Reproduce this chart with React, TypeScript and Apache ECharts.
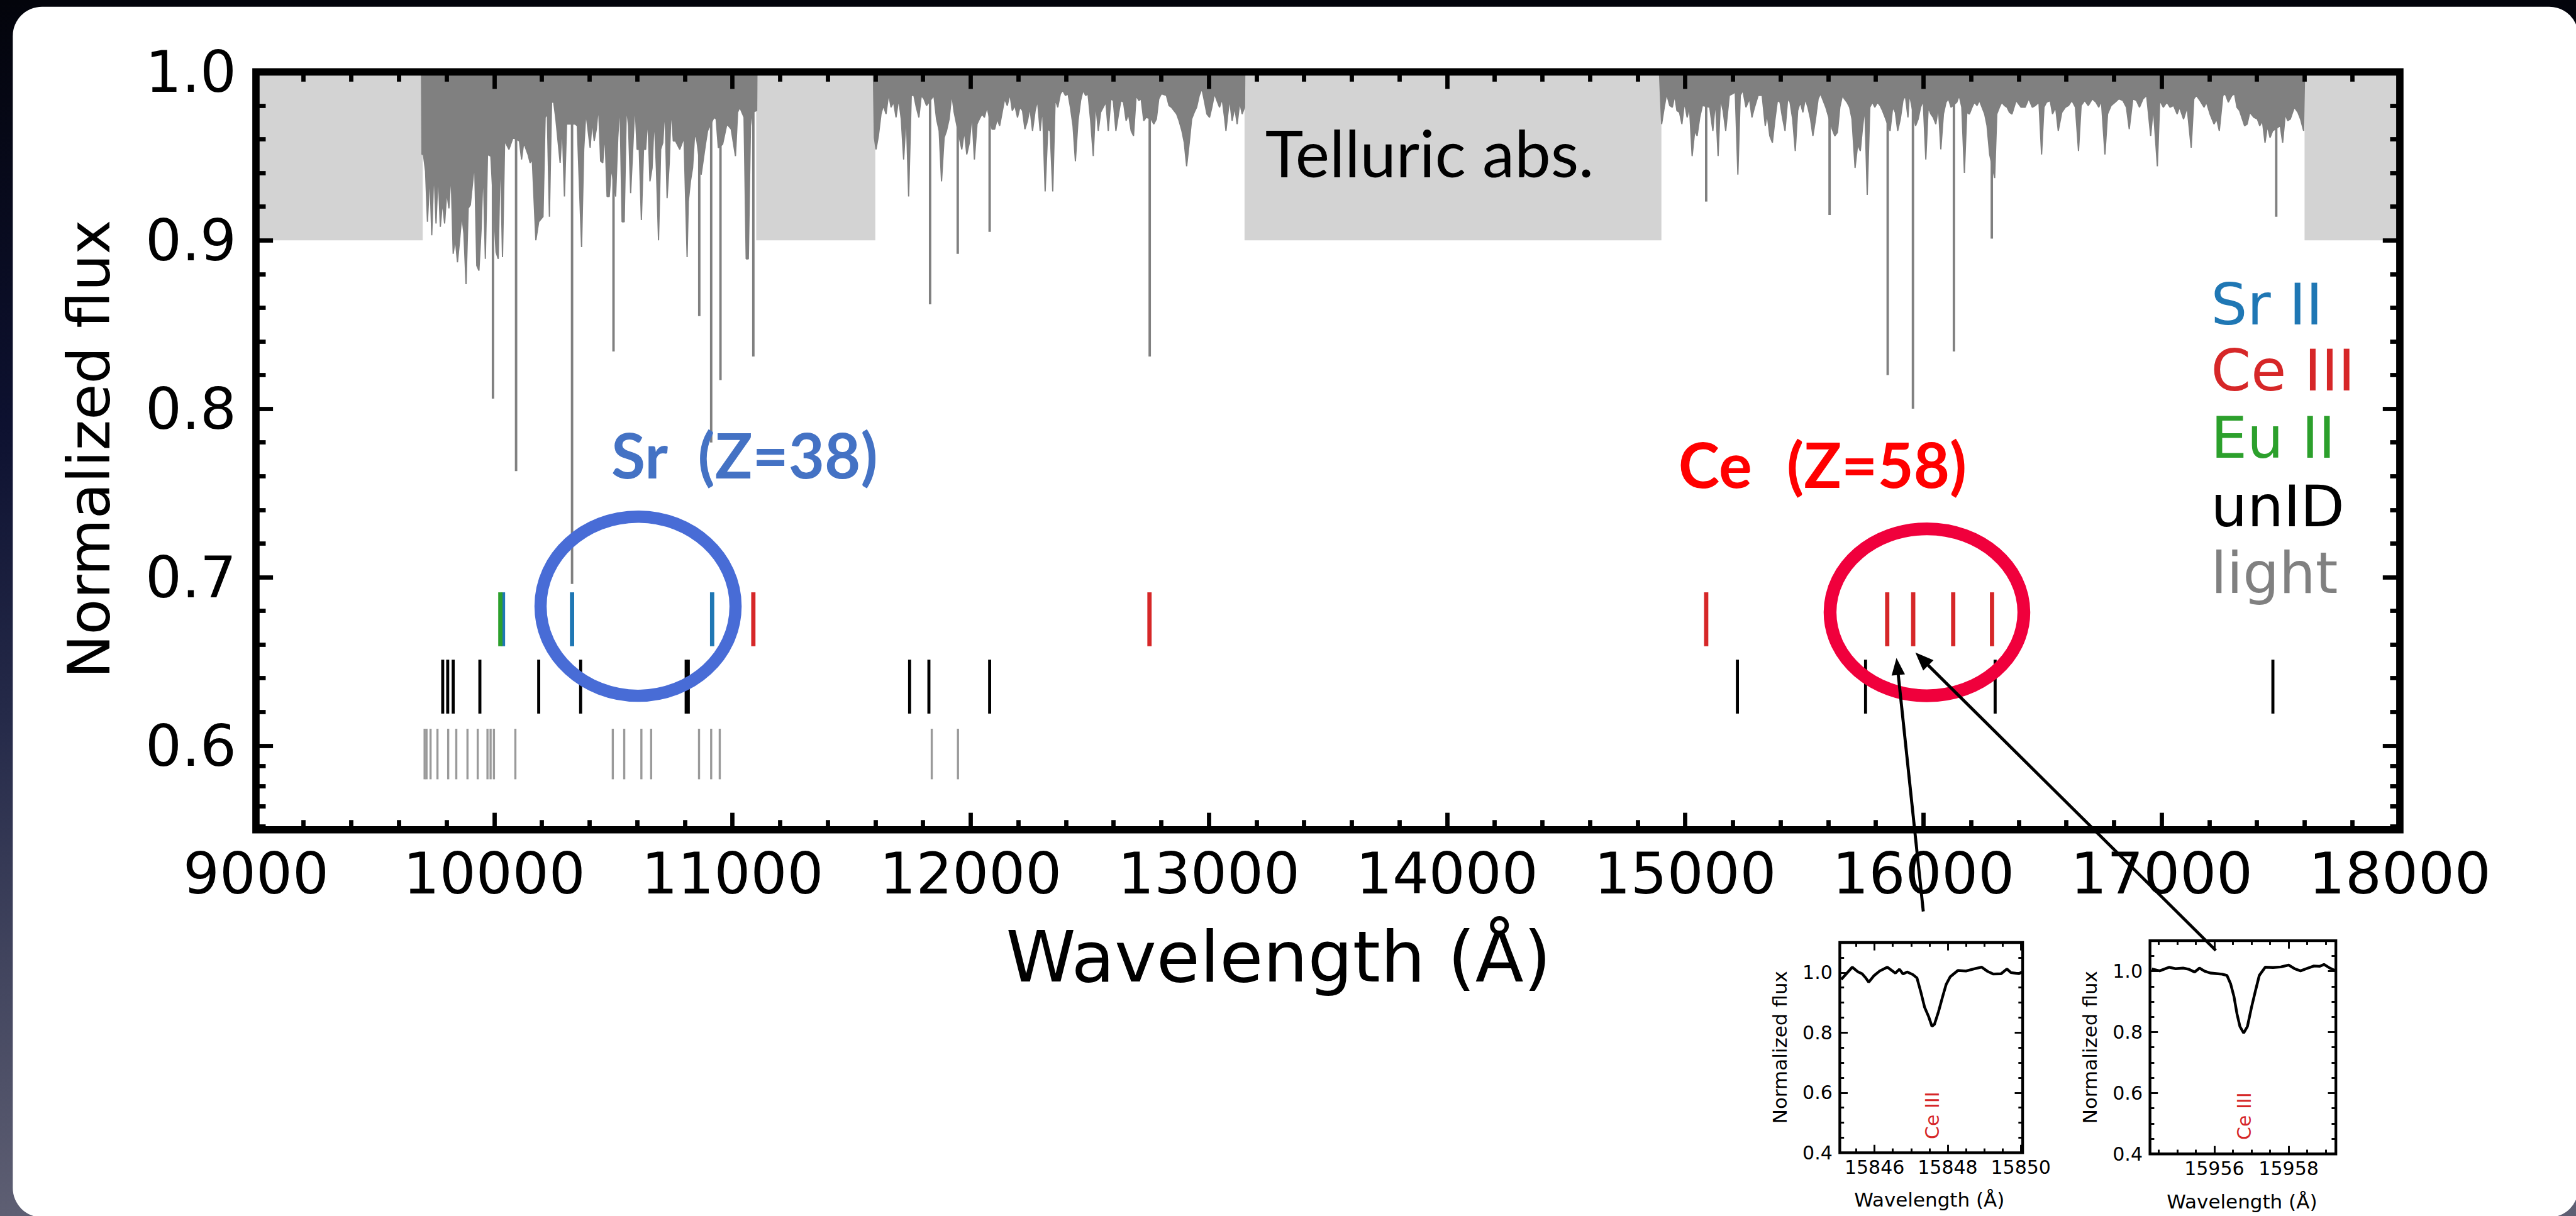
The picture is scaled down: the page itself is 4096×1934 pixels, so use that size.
import React, { useEffect, useRef } from "react";
import * as echarts from "echarts";

// ---------------- scale of the output relative to the reference ----------------
const S = 0.969;
const p = (v: number) => v * S;

// ---------------- main panel axes ----------------
const xMin = 9000;
const xMax = 18000;
const yMin = 0.55;
const yMax = 1.0;
const xMajorTicks = [9000, 10000, 11000, 12000, 13000, 14000, 15000, 16000, 17000, 18000];
const yMajorTicks = [0.6, 0.7, 0.8, 0.9, 1.0];

// ---------------- telluric absorption panel ----------------
const telluricBand = [0.9, 1.0];
const lightBands = [
  [9000, 9700],
  [11100, 11600],
  [13150, 14900],
  [17600, 18000],
];

const telluricA = [
  [9695, 0.999], [9697, 0.951], [9703, 0.951], [9712, 0.941], [9720, 0.911], [9730, 0.94], [9738, 0.903], [9747, 0.943],
  [9756, 0.91], [9765, 0.941], [9774, 0.908], [9783, 0.923], [9792, 0.91], [9801, 0.929], [9810, 0.919], [9819, 0.941],
  [9828, 0.892], [9837, 0.901], [9846, 0.887], [9855, 0.9], [9864, 0.915], [9873, 0.904], [9882, 0.874], [9891, 0.919],
  [9900, 0.921], [9918, 0.946], [9927, 0.885], [9936, 0.882], [9945, 0.906], [9954, 0.944], [9963, 0.889], [9972, 0.951],
  [9986, 0.95], [10008, 0.893], [10017, 0.889], [10026, 0.955], [10035, 0.89], [10044, 0.959], [10062, 0.954], [10079, 0.961],
  [10106, 0.959], [10115, 0.948], [10124, 0.958], [10142, 0.951], [10151, 0.946], [10160, 0.948], [10175, 0.9], [10187, 0.911],
  [10205, 0.914], [10214, 0.973], [10223, 0.975], [10232, 0.914], [10241, 0.982], [10250, 0.982], [10259, 0.972], [10277, 0.946],
  [10286, 0.969], [10295, 0.926], [10304, 0.969], [10313, 0.969], [10340, 0.969], [10349, 0.968], [10367, 0.896], [10376, 0.954],
  [10385, 0.976], [10403, 0.955], [10411, 0.971], [10420, 0.959], [10429, 0.966], [10438, 0.98], [10447, 0.947], [10456, 0.946],
  [10465, 0.964], [10474, 0.926], [10483, 0.926], [10492, 0.943], [10510, 0.926], [10519, 0.961], [10528, 0.982], [10537, 0.911],
  [10546, 0.911], [10555, 0.98], [10564, 0.968], [10573, 0.928], [10582, 0.955], [10591, 0.982], [10600, 0.954], [10609, 0.954],
  [10618, 0.912], [10627, 0.954], [10636, 0.954], [10645, 0.973], [10654, 0.935], [10663, 0.943], [10672, 0.973], [10681, 0.943],
  [10690, 0.9], [10699, 0.954], [10708, 0.958], [10717, 0.979], [10726, 0.925], [10735, 0.946], [10743, 0.979], [10752, 0.959],
  [10761, 0.959], [10779, 0.954], [10797, 0.961], [10810, 0.89], [10815, 0.923], [10824, 0.935], [10833, 0.943], [10842, 0.964],
  [10851, 0.959], [10869, 0.939], [10887, 0.957], [10896, 0.965], [10923, 0.973], [10932, 0.972], [10941, 0.955], [10959, 0.957],
  [10977, 0.969], [10995, 0.966], [11013, 0.95], [11022, 0.976], [11031, 0.979], [11049, 0.973], [11058, 0.889], [11067, 0.889],
  [11076, 0.968], [11084, 0.976], [11102, 0.977], [11103, 0.999],
];

const telluricB = [
  [11592, 0.999], [11596, 0.961], [11603, 0.954], [11613, 0.962], [11624, 0.975], [11634, 0.98], [11645, 0.975], [11656, 0.987],
  [11666, 0.979], [11677, 0.982], [11687, 0.973], [11698, 0.984], [11709, 0.972], [11719, 0.948], [11730, 0.975], [11740, 0.926],
  [11751, 0.986], [11762, 0.986], [11772, 0.979], [11783, 0.973], [11793, 0.986], [11804, 0.984], [11815, 0.98], [11846, 0.986],
  [11857, 0.972], [11868, 0.965], [11878, 0.935], [11889, 0.961], [11899, 0.965], [11910, 0.972], [11921, 0.987], [11931, 0.976],
  [11963, 0.954], [11974, 0.965], [11984, 0.951], [11995, 0.958], [12006, 0.975], [12016, 0.948], [12027, 0.969], [12037, 0.972],
  [12048, 0.975], [12058, 0.973], [12069, 0.979], [12090, 0.966], [12101, 0.966], [12112, 0.972], [12122, 0.968], [12143, 0.984],
  [12154, 0.98], [12165, 0.987], [12175, 0.977], [12186, 0.98], [12197, 0.973], [12207, 0.979], [12218, 0.977], [12228, 0.966],
  [12239, 0.971], [12249, 0.979], [12260, 0.965], [12271, 0.977], [12281, 0.983], [12292, 0.965], [12302, 0.979], [12313, 0.929],
  [12324, 0.966], [12334, 0.965], [12345, 0.929], [12355, 0.984], [12366, 0.979], [12377, 0.987], [12387, 0.989], [12398, 0.986],
  [12409, 0.987], [12419, 0.979], [12430, 0.968], [12440, 0.947], [12451, 0.971], [12462, 0.983], [12472, 0.989], [12483, 0.986],
  [12493, 0.987], [12504, 0.971], [12515, 0.95], [12525, 0.982], [12536, 0.965], [12546, 0.976], [12557, 0.979], [12568, 0.982],
  [12578, 0.965], [12589, 0.984], [12599, 0.983], [12610, 0.965], [12621, 0.975], [12631, 0.983], [12642, 0.982], [12653, 0.971],
  [12663, 0.975], [12674, 0.965], [12684, 0.962], [12695, 0.986], [12706, 0.983], [12716, 0.984], [12727, 0.971], [12737, 0.973],
  [12758, 0.972], [12769, 0.969], [12780, 0.972], [12790, 0.984], [12801, 0.987], [12822, 0.986], [12833, 0.98], [12843, 0.979],
  [12865, 0.975], [12875, 0.971], [12887, 0.965], [12897, 0.958], [12907, 0.944], [12918, 0.958], [12928, 0.972], [12939, 0.976],
  [12949, 0.979], [12960, 0.986], [12971, 0.99], [12981, 0.983], [12992, 0.975], [13003, 0.973], [13013, 0.979], [13024, 0.987],
  [13034, 0.983], [13045, 0.979], [13056, 0.984], [13066, 0.973], [13072, 0.965], [13087, 0.984], [13098, 0.971], [13109, 0.979],
  [13119, 0.969], [13130, 0.982], [13140, 0.975], [13150, 0.979], [13151, 0.999],
];

const telluricC = [
  [14892, 0.999], [14901, 0.969], [14912, 0.979], [14922, 0.987], [14935, 0.98], [14946, 0.979], [14956, 0.986], [14965, 0.977],
  [14976, 0.976], [14986, 0.969], [14997, 0.982], [15008, 0.973], [15018, 0.979], [15029, 0.95], [15040, 0.965], [15050, 0.962],
  [15061, 0.973], [15072, 0.98], [15103, 0.979], [15116, 0.965], [15127, 0.983], [15138, 0.95], [15148, 0.984], [15159, 0.977],
  [15170, 0.965], [15185, 0.986], [15199, 0.987], [15210, 0.988], [15221, 0.939], [15231, 0.986], [15242, 0.989], [15255, 0.979],
  [15270, 0.984], [15280, 0.973], [15291, 0.979], [15306, 0.986], [15323, 0.986], [15336, 0.968], [15344, 0.975], [15355, 0.962],
  [15366, 0.958], [15376, 0.971], [15387, 0.983], [15398, 0.982], [15408, 0.973], [15419, 0.965], [15430, 0.984], [15440, 0.982],
  [15451, 0.972], [15462, 0.953], [15472, 0.977], [15483, 0.982], [15494, 0.976], [15504, 0.984], [15515, 0.979], [15526, 0.972],
  [15536, 0.962], [15547, 0.972], [15558, 0.984], [15568, 0.987], [15579, 0.983], [15590, 0.979], [15617, 0.966], [15628, 0.962],
  [15639, 0.964], [15649, 0.979], [15660, 0.986], [15668, 0.984], [15679, 0.982], [15690, 0.979], [15700, 0.972], [15713, 0.943],
  [15724, 0.957], [15735, 0.953], [15743, 0.965], [15754, 0.979], [15764, 0.927], [15775, 0.979], [15786, 0.982], [15796, 0.979],
  [15807, 0.982], [15818, 0.98], [15828, 0.977], [15839, 0.973], [15860, 0.965], [15871, 0.979], [15882, 0.976], [15892, 0.965],
  [15903, 0.972], [15914, 0.983], [15924, 0.986], [15935, 0.973], [15941, 0.987], [15967, 0.968], [15978, 0.972], [15988, 0.979],
  [15999, 0.983], [16010, 0.948], [16020, 0.979], [16031, 0.975], [16041, 0.973], [16052, 0.969], [16063, 0.979], [16073, 0.954],
  [16084, 0.975], [16095, 0.982], [16105, 0.984], [16116, 0.979], [16140, 0.982], [16150, 0.986], [16161, 0.979], [16172, 0.94],
  [16182, 0.976], [16193, 0.975], [16204, 0.979], [16214, 0.982], [16225, 0.98], [16235, 0.983], [16246, 0.979], [16257, 0.975],
  [16267, 0.968], [16278, 0.951], [16299, 0.937], [16308, 0.975], [16319, 0.979], [16329, 0.982], [16340, 0.98], [16351, 0.979],
  [16361, 0.976], [16372, 0.975], [16389, 0.983], [16410, 0.979], [16427, 0.979], [16442, 0.984], [16457, 0.979], [16470, 0.98],
  [16485, 0.982], [16496, 0.951], [16506, 0.979], [16517, 0.982], [16532, 0.983], [16542, 0.975], [16555, 0.979], [16566, 0.965],
  [16581, 0.976], [16596, 0.979], [16609, 0.98], [16623, 0.983], [16638, 0.979], [16651, 0.953], [16662, 0.98], [16677, 0.983],
  [16692, 0.98], [16709, 0.984], [16724, 0.982], [16736, 0.979], [16747, 0.983], [16762, 0.951], [16773, 0.975], [16788, 0.98],
  [16805, 0.982], [16820, 0.984], [16837, 0.983], [16852, 0.979], [16864, 0.966], [16879, 0.984], [16894, 0.983], [16907, 0.979],
  [16922, 0.984], [16937, 0.986], [16954, 0.962], [16965, 0.979], [16982, 0.944], [16992, 0.983], [17007, 0.979], [17022, 0.982],
  [17035, 0.979], [17050, 0.98], [17065, 0.975], [17075, 0.979], [17092, 0.972], [17107, 0.979], [17124, 0.955], [17135, 0.984],
  [17146, 0.986], [17161, 0.983], [17178, 0.979], [17188, 0.982], [17203, 0.975], [17220, 0.969], [17231, 0.972], [17242, 0.965],
  [17257, 0.986], [17267, 0.987], [17280, 0.982], [17295, 0.986], [17306, 0.987], [17316, 0.979], [17327, 0.977], [17348, 0.968],
  [17359, 0.969], [17370, 0.976], [17387, 0.973], [17402, 0.972], [17412, 0.968], [17423, 0.971], [17434, 0.958], [17444, 0.968],
  [17455, 0.961], [17466, 0.965], [17498, 0.968], [17508, 0.958], [17519, 0.975], [17529, 0.971], [17540, 0.972], [17557, 0.979],
  [17572, 0.976], [17583, 0.972], [17596, 0.965], [17600, 0.999],
];

// deep telluric / stellar absorption lines: [wavelength, minimum flux]
const deepLines = [
  [9995, 0.806], [10092, 0.763], [10327, 0.696], [10501, 0.834], [10861, 0.855], [10911, 0.78], [10950, 0.817],
  [11088, 0.831], [11830, 0.862], [11946, 0.892], [12080, 0.905], [12752, 0.831], [15088, 0.923], [15606, 0.915],
  [15850, 0.82], [15956, 0.8], [16128, 0.834], [16287, 0.901], [17481, 0.914],
];
const deepLineTop = 0.985;

// ---------------- identified lines (wavelengths, Å) ----------------
const srII = [10037, 10327, 10915];
const euII = [10026];
const ceIII = [11088, 12751, 15088, 15848, 15957, 16125, 16288];
const unID = [9784, 9805, 9828, 9940, 10187, 10363, 10806, 10815, 11744, 11825, 12080, 15219, 15757, 16301, 17467];
const lightLines = [
  9708, 9716, 9733, 9762, 9807, 9841, 9888, 9931, 9972, 9985, 9999, 10089, 10498, 10546, 10618, 10659, 10860, 10911,
  10947, 11837, 11947,
];
const rowIdentified = [0.659, 0.691];
const rowUnID = [0.619, 0.651];
const rowLight = [0.58, 0.61];

const legendLabels = ["Sr II", "Ce III", "Eu II", "unID", "light"];
const legendColors = ["#1f77b4", "#d62728", "#2ca02c", "#000000", "#808080"];

// ---------------- insets ----------------
const inset1Wave = [
  15845.09, 15845.39, 15845.55, 15845.66, 15845.76, 15845.84, 15845.98, 15846.14, 15846.35, 15846.57, 15846.68,
  15846.78, 15846.89, 15847.05, 15847.16, 15847.27, 15847.37, 15847.48, 15847.57, 15847.64, 15847.75, 15847.86,
  15847.96, 15848.07, 15848.28, 15848.5, 15848.71, 15848.93, 15849.09, 15849.25, 15849.46, 15849.62, 15849.73,
  15849.95, 15850.03,
];
const inset1Flux = [
  0.977, 1.018, 1.002, 0.996, 0.982, 0.968, 0.989, 1.005, 1.018, 0.998, 1.011, 0.995, 1.002, 0.993, 0.982, 0.933,
  0.884, 0.853, 0.821, 0.828, 0.87, 0.919, 0.961, 0.986, 1.007, 1.005, 1.012, 1.018, 1.004, 0.995, 0.996, 1.012,
  1.0, 0.996, 1.002,
];
const inset2Wave = [
  15954.32, 15954.53, 15954.79, 15954.95, 15955.16, 15955.32, 15955.47, 15955.6, 15955.74, 15955.89, 15956.05,
  15956.21, 15956.34, 15956.44, 15956.53, 15956.61, 15956.69, 15956.79, 15956.89, 15957.0, 15957.11, 15957.21,
  15957.37, 15957.58, 15957.79, 15958.0, 15958.16, 15958.32, 15958.47, 15958.68, 15958.84, 15958.95, 15959.11,
  15959.23,
];
const inset2Flux = [
  1.007, 1.001, 1.013, 1.008, 1.01, 1.006, 0.997, 1.01, 1.0, 0.994, 0.992, 0.99, 0.986, 0.958, 0.916, 0.86, 0.818,
  0.797, 0.818, 0.881, 0.937, 0.986, 1.013, 1.012, 1.014, 1.02, 1.008, 1.001, 1.008, 1.017, 1.016, 1.022, 1.01,
  1.003,
];
const inset1Range = [15845.05, 15850.05];
const inset2Range = [15954.27, 15959.27];
const inset1XTicks = [15846, 15848, 15850];
const inset1XMinor = [15845.5, 15846.5, 15847, 15847.5, 15848.5, 15849, 15849.5];
const inset2XTicks = [15956, 15958];
const inset2XMinor = [15954.5, 15955, 15955.5, 15956.5, 15957, 15957.5, 15958.5, 15959];
const insetYRange = [0.4, 1.1];
const insetYTicks = [0.4, 0.6, 0.8, 1.0];
const insetYMinor = [0.45, 0.5, 0.55, 0.65, 0.7, 0.75, 0.85, 0.9, 0.95, 1.05];

// ---------------- helpers ----------------
function minorBetween(majors: number[], parts: number): number[] {
  const out: number[] = [];
  for (let i = 0; i < majors.length - 1; i++) {
    const a = majors[i];
    const b = majors[i + 1];
    for (let k = 1; k < parts; k++) out.push(Math.round((a + ((b - a) * k) / parts) * 1e6) / 1e6);
  }
  return out;
}

type AxSpec = {
  grid: number;
  min: number;
  max: number;
  majors: number[];
  minors: number[];
  fontSize: number;
  margin: number;
  fmt: (v: number) => string;
  majorLen: number;
  minorLen: number;
  tickW: number;
};

function boxAxes(dim: "x" | "y", s: AxSpec): any[] {
  const pos = dim === "x" ? ["bottom", "top"] : ["left", "right"];
  const mk = (position: string, values: number[], len: number, labeled: boolean) => ({
    type: "value",
    gridIndex: s.grid,
    min: s.min,
    max: s.max,
    position,
    z: 10,
    axisLine: { show: false, onZero: false },
    splitLine: { show: false },
    axisPointer: { show: false },
    axisTick: {
      show: true,
      inside: true,
      length: len,
      customValues: values,
      lineStyle: { color: "#000", width: s.tickW },
    },
    axisLabel: labeled
      ? {
          show: true,
          customValues: s.majors,
          formatter: s.fmt,
          fontSize: s.fontSize,
          fontFamily: "DejaVu Sans",
          color: "#000",
          margin: s.margin,
        }
      : { show: false },
  });
  return [
    mk(pos[0], s.majors, s.majorLen, true),
    mk(pos[1], s.majors, s.majorLen, false),
    mk(pos[0], s.minors, s.minorLen, false),
    mk(pos[1], s.minors, s.minorLen, false),
  ];
}

function vSegments(color: string, width: number) {
  return (_params: any, api: any) => {
    const x = api.value(0);
    const a = api.coord([x, api.value(1)]);
    const b = api.coord([x, api.value(2)]);
    return {
      type: "line",
      shape: { x1: a[0], y1: a[1], x2: b[0], y2: b[1] },
      style: { stroke: color, lineWidth: width },
    };
  };
}

function txt(
  text: string,
  x: number,
  y: number,
  size: number,
  color: string,
  opts: { family?: string; weight?: string | number; align?: string; rot?: number } = {}
) {
  const align = opts.align || "left";
  return {
    type: "text",
    x: p(x),
    y: p(y),
    rotation: opts.rot || 0,
    z: 100,
    silent: true,
    style: {
      text,
      fill: color,
      fontSize: p(size),
      fontFamily: opts.family || "DejaVu Sans",
      fontWeight: opts.weight || "normal",
      align,
      verticalAlign: "middle",
      textAlign: align,
      textVerticalAlign: "middle",
    },
  };
}

function arrow(tail: number[], tip: number[], width: number, headLen: number, headW: number) {
  const dx = tip[0] - tail[0];
  const dy = tip[1] - tail[1];
  const L = Math.sqrt(dx * dx + dy * dy);
  const ux = dx / L;
  const uy = dy / L;
  const bx = tip[0] - ux * headLen;
  const by = tip[1] - uy * headLen;
  const nx = -uy;
  const ny = ux;
  return [
    {
      type: "line",
      z: 100,
      silent: true,
      shape: { x1: p(tail[0]), y1: p(tail[1]), x2: p(bx + ux * 2), y2: p(by + uy * 2) },
      style: { stroke: "#000", lineWidth: p(width) },
    },
    {
      type: "polygon",
      z: 100,
      silent: true,
      shape: {
        points: [
          [p(tip[0]), p(tip[1])],
          [p(bx + (nx * headW) / 2), p(by + (ny * headW) / 2)],
          [p(bx - (nx * headW) / 2), p(by - (ny * headW) / 2)],
        ],
      },
      style: { fill: "#000" },
    },
  ];
}

export default function App() {
  const ref = useRef<HTMLDivElement>(null);

  useEffect(() => {
    if (!ref.current) return;
    const chart = echarts.init(ref.current, null, { renderer: "svg" });

    const main = { left: 420, top: 118, width: 3518, height: 1244 };
    const in1 = { left: 3019, top: 1547, width: 300, height: 345 };
    const in2 = { left: 3528, top: 1544, width: 305, height: 350 };

    const grids = [main, in1, in2].map((g, i) => ({
      left: p(g.left),
      top: p(g.top),
      width: p(g.width),
      height: p(g.height),
      show: true,
      borderColor: "#000",
      borderWidth: i === 0 ? p(12) : p(4.5),
      backgroundColor: "transparent",
      containLabel: false,
      z: 10,
    }));

    const fmtInt = (v: number) => String(Math.round(v));
    const fmt1 = (v: number) => v.toFixed(1);

    const xAxes = [
      ...boxAxes("x", {
        grid: 0, min: xMin, max: xMax, majors: xMajorTicks, minors: minorBetween(xMajorTicks, 5),
        fontSize: p(94), margin: p(24), fmt: fmtInt, majorLen: p(28), minorLen: p(16), tickW: p(7),
      }),
      ...boxAxes("x", {
        grid: 1, min: inset1Range[0], max: inset1Range[1], majors: inset1XTicks, minors: inset1XMinor,
        fontSize: p(31), margin: p(8), fmt: fmtInt, majorLen: p(13), minorLen: p(7), tickW: p(3),
      }),
      ...boxAxes("x", {
        grid: 2, min: inset2Range[0], max: inset2Range[1], majors: inset2XTicks, minors: inset2XMinor,
        fontSize: p(31), margin: p(8), fmt: fmtInt, majorLen: p(13), minorLen: p(7), tickW: p(3),
      }),
    ];
    const yAxes = [
      ...boxAxes("y", {
        grid: 0, min: yMin, max: yMax, majors: yMajorTicks, minors: minorBetween([0.54, ...yMajorTicks], 5).filter((v) => v > yMin),
        fontSize: p(94), margin: p(32), fmt: fmt1, majorLen: p(28), minorLen: p(16), tickW: p(7),
      }),
      ...boxAxes("y", {
        grid: 1, min: insetYRange[0], max: insetYRange[1], majors: insetYTicks, minors: insetYMinor,
        fontSize: p(31), margin: p(12), fmt: fmt1, majorLen: p(13), minorLen: p(7), tickW: p(3),
      }),
      ...boxAxes("y", {
        grid: 2, min: insetYRange[0], max: insetYRange[1], majors: insetYTicks, minors: insetYMinor,
        fontSize: p(31), margin: p(12), fmt: fmt1, majorLen: p(13), minorLen: p(7), tickW: p(3),
      }),
    ];

    const rowSeries = (name: string, waves: number[], row: number[], color: string, width: number, z: number) => ({
      type: "custom",
      name,
      xAxisIndex: 0,
      yAxisIndex: 0,
      z,
      silent: true,
      renderItem: vSegments(color, p(width)),
      data: waves.map((w) => [w, row[0], row[1]]),
    });

    const telluricSeries = [telluricA, telluricB, telluricC].map((d, i) => ({
      type: "line",
      name: "telluric" + i,
      xAxisIndex: 0,
      yAxisIndex: 0,
      z: 2,
      silent: true,
      symbol: "none",
      data: d,
      lineStyle: { color: "#808080", width: p(2) },
      areaStyle: { color: "#808080", opacity: 1, origin: "end" },
    }));

    const series: any[] = [
      {
        type: "custom",
        name: "bands",
        xAxisIndex: 0,
        yAxisIndex: 0,
        z: 1,
        silent: true,
        data: lightBands.map((b) => [b[0], b[1], telluricBand[0], telluricBand[1]]),
        renderItem: (_params: any, api: any) => {
          const a = api.coord([api.value(0), api.value(3)]);
          const b = api.coord([api.value(1), api.value(2)]);
          return {
            type: "rect",
            shape: { x: a[0], y: a[1], width: b[0] - a[0], height: b[1] - a[1] },
            style: { fill: "#d3d3d3" },
          };
        },
      },
      ...telluricSeries,
      {
        type: "custom",
        name: "deep",
        xAxisIndex: 0,
        yAxisIndex: 0,
        z: 2,
        silent: true,
        renderItem: vSegments("#808080", p(4)),
        data: deepLines.map((d) => [d[0], deepLineTop, d[1]]),
      },
      rowSeries("light", lightLines, rowLight, "#9a9a9a", 3.5, 3),
      rowSeries("unID", unID, rowUnID, "#000000", 5, 3),
      rowSeries("Sr II", srII, rowIdentified, "#1f77b4", 7, 3),
      rowSeries("Eu II", euII, rowIdentified, "#2ca02c", 7, 4),
      rowSeries("Ce III", ceIII, rowIdentified, "#d62728", 7, 3),
      {
        type: "line",
        name: "inset1",
        xAxisIndex: 4,
        yAxisIndex: 4,
        symbol: "none",
        silent: true,
        z: 3,
        data: inset1Wave.map((w, i) => [w, inset1Flux[i]]),
        lineStyle: { color: "#000", width: p(4.5) },
      },
      {
        type: "line",
        name: "inset2",
        xAxisIndex: 8,
        yAxisIndex: 8,
        symbol: "none",
        silent: true,
        z: 3,
        data: inset2Wave.map((w, i) => [w, inset2Flux[i]]),
        lineStyle: { color: "#000", width: p(4.5) },
      },
    ];

    const legendY = [499, 608, 718, 831, 940];
    const graphic: any[] = [
      {
        type: "rect",
        z: -10,
        silent: true,
        shape: { x: p(21), y: p(11), width: p(4210), height: p(1987), r: p(48) },
        style: { fill: "#ffffff" },
      },
      txt("Normalized flux", 147, 737, 96, "#000", { align: "center", rot: Math.PI / 2 }),
      txt("Wavelength (Å)", 2098, 1571, 116, "#000", { align: "center" }),
      ...legendLabels.map((l, i) => txt(l, 3628, legendY[i], 94, legendColors[i])),
      txt("Telluric abs.", 2076, 250, 106, "#000", { family: "Lato" }),
      txt("Sr", 1003, 746, 102, "#4472c4", { family: "Lato", weight: "bold" }),
      txt("(Z=38)", 1145, 746, 102, "#4472c4", { family: "Lato", weight: "bold" }),
      txt("Ce", 2754, 761, 102, "#ff0000", { family: "Lato", weight: "bold" }),
      txt("(Z=58)", 2932, 761, 102, "#ff0000", { family: "Lato", weight: "bold" }),
      {
        type: "ellipse",
        z: 100,
        silent: true,
        shape: { cx: p(1047), cy: p(995), rx: p(160), ry: p(147) },
        style: { fill: "none", stroke: "#486cd6", lineWidth: p(20) },
      },
      {
        type: "ellipse",
        z: 100,
        silent: true,
        shape: { cx: p(3162), cy: p(1005), rx: p(159), ry: p(137) },
        style: { fill: "none", stroke: "#f0003c", lineWidth: p(21) },
      },
      ...arrow([3156, 1496], [3112, 1080], 5, 28, 22),
      ...arrow([3636, 1560], [3143, 1071], 5, 30, 24),
      txt("Normalized flux", 2921, 1719, 32, "#000", { align: "center", rot: Math.PI / 2 }),
      txt("Normalized flux", 3429, 1719, 32, "#000", { align: "center", rot: Math.PI / 2 }),
      txt("Wavelength (Å)", 3166, 1969, 32, "#000", { align: "center" }),
      txt("Wavelength (Å)", 3679, 1972, 32, "#000", { align: "center" }),
      txt("Ce III", 3171, 1831, 31, "#d62728", { align: "center", rot: Math.PI / 2 }),
      txt("Ce III", 3683, 1832, 31, "#d62728", { align: "center", rot: Math.PI / 2 }),
    ];

    chart.setOption({
      animation: false,
      backgroundColor: new echarts.graphic.LinearGradient(0, 0, 0, 1, [
        { offset: 0, color: "#03040b" },
        { offset: 0.35, color: "#0d1130" },
        { offset: 0.6, color: "#262b4a" },
        { offset: 1, color: "#5e5f73" },
      ]),
      textStyle: { fontFamily: "DejaVu Sans" },
      grid: grids,
      xAxis: xAxes,
      yAxis: yAxes,
      series,
      graphic,
    });

    return () => chart.dispose();
  }, []);

  return (
    <div
      ref={ref}
      style={{ position: "fixed", left: 0, top: 0, width: 4096, height: 1934 }}
    />
  );
}
